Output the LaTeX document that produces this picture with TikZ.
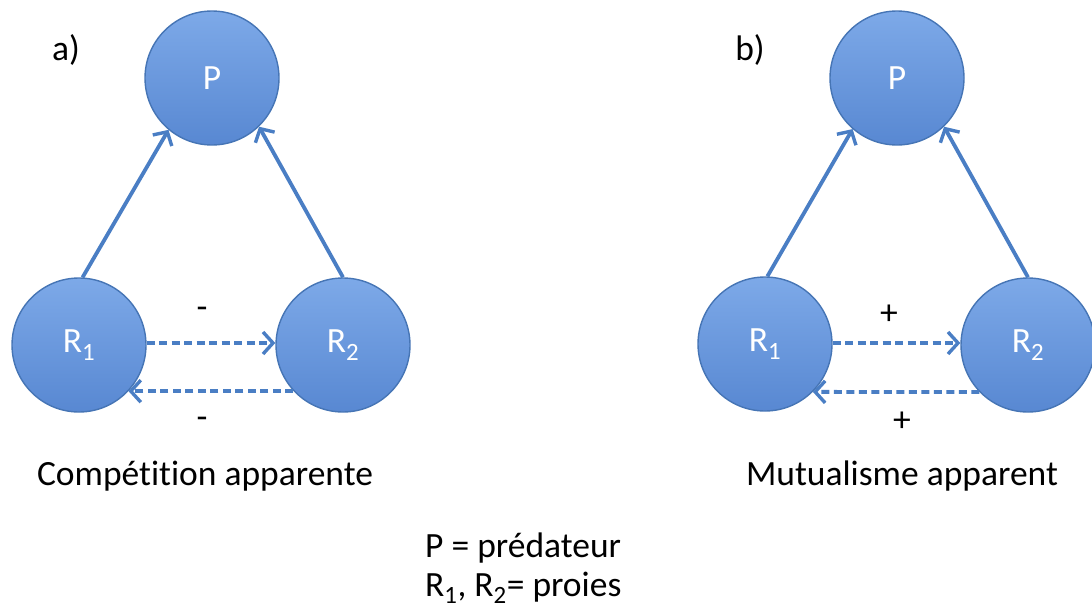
\documentclass[tikz,border=0pt]{standalone}
\usepackage{fontspec}
\setmainfont{Carlito}[Ligatures=NoCommon]
\usetikzlibrary{arrows.meta}
\definecolor{circtop}{HTML}{7DA9E8}
\definecolor{circbot}{HTML}{5888D2}
\definecolor{circborder}{HTML}{4675B5}
\definecolor{lienbleu}{HTML}{4A7EC4}
\newcommand{\bigtxt}{\fontsize{35.5}{42}\selectfont}
\tikzset{
	espece/.style={circle, minimum size=134pt, inner sep=0pt, draw=circborder, line width=1.4pt, top color=circtop, bottom color=circbot, text=white, font=\bigtxt},
	lien/.style={draw=lienbleu, line width=3.8pt, -{Straight Barb[length=10pt,width=22pt,line width=3.4pt]}},
	lienpointille/.style={lien, dash pattern=on 8pt off 4.5pt}
}
\tikzstyle{etiquette}=[font=\bigtxt, inner sep=0pt]

\begin{document}
\begin{tikzpicture}[x=1pt,y=-1pt]
	\useasboundingbox (0,0) rectangle (1092,608);
	% a) competition apparente
	\node[espece] (Pa) at (212,78) {P};
	\node[espece] (R1a) at (79,345) {R\textsubscript{1}};
	\node[espece] (R2a) at (343,345) {R\textsubscript{2}};
	\draw[lien] (R1a.87) -- (Pa.230);
	\draw[lien] (R2a.90) -- (Pa.314);
	\draw[lienpointille] (R1a.east |- 0,343) -- (R2a.west |- 0,343);
	\draw[lienpointille] (R2a.223) -- (R1a.317);
	\node[etiquette] (sa1) at (202,313) {-};
	\node[etiquette] (sa2) at (202,423) {-};
	\node[etiquette] (a) at (66,50) {a)};
	\node[etiquette] (titrea) at (205,476) {Compétition apparente};
	% b) mutualisme apparent
	\node[espece] (Pb) at (897,78) {P};
	\node[espece] (R1b) at (765,344) {R\textsubscript{1}};
	\node[espece] (R2b) at (1028,345) {R\textsubscript{2}};
	\draw[lien] (R1b.88) -- (Pb.229);
	\draw[lien] (R2b.90) -- (Pb.314);
	\draw[lienpointille] (R1b.east |- 0,343) -- (R2b.west |- 0,343);
	\draw[lienpointille] (R2b.224) -- (R1b.315);
	\node[etiquette] (sb1) at (889,315) {+};
	\node[etiquette] (sb2) at (902,422) {+};
	\node[etiquette] (b) at (750,50) {b)};
	\node[etiquette] (titreb) at (902,476) {Mutualisme apparent};
	% legende
	\node[etiquette, anchor=west] (leg1) at (425,548) {P = prédateur};
	\node[etiquette, anchor=west] (leg2) at (425,588) {R\textsubscript{1}, R\textsubscript{2}= proies};
\end{tikzpicture}
\end{document}
